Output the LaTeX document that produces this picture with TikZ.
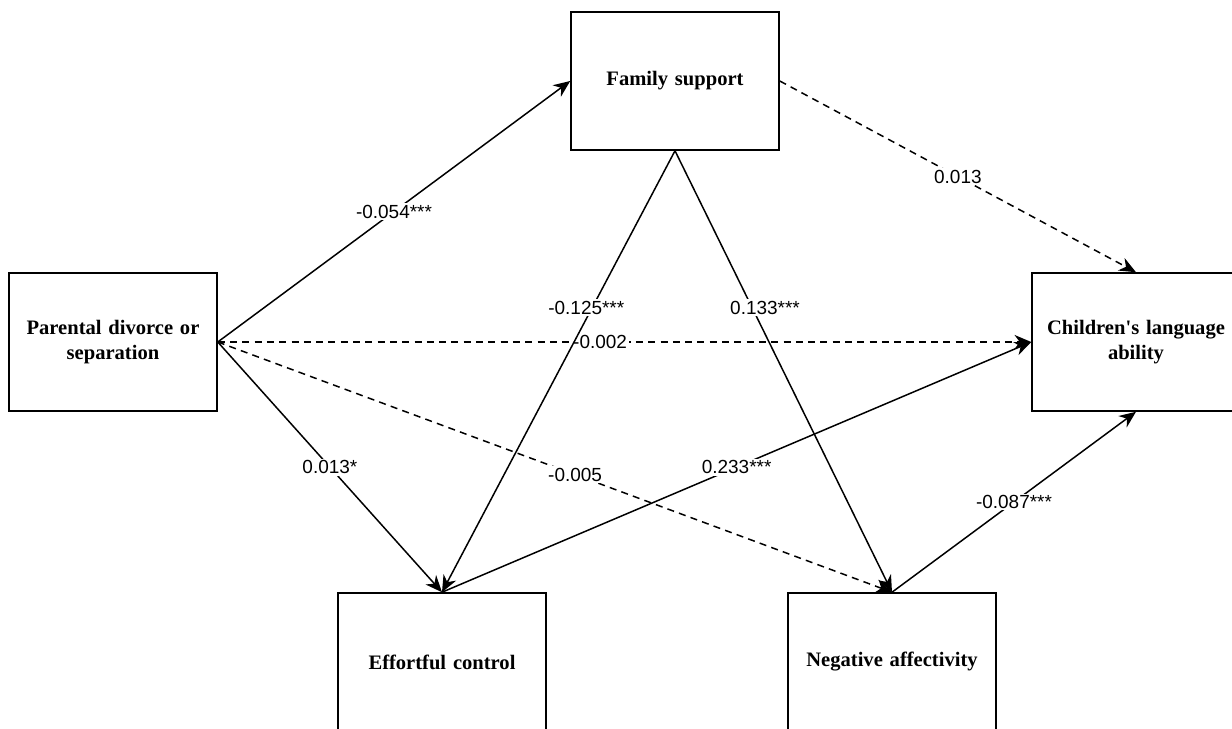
\documentclass[tikz,border=0pt]{standalone}
\usepackage{fontspec}
\setmainfont{Liberation Serif}
\setsansfont{Liberation Sans}
\usetikzlibrary{arrows.meta,positioning}

\begin{document}
\begin{tikzpicture}[
    x=0.02cm, y=-0.02cm,
    box/.style={rectangle, draw=black, line width=0.9pt, minimum width=4.16cm, minimum height=2.76cm, inner sep=0pt, text width=3.9cm, align=center, font=\fontsize{11.7}{14.2}\selectfont\bfseries},
    arrow/.style={-{Stealth[length=9.5pt,width=8pt,inset=3pt]}, line width=0.85pt},
    dasharrow/.style={arrow, dash pattern=on 4pt off 3pt},
    coef/.style={fill=white, inner sep=1pt, font=\sffamily\fontsize{10.8}{12}\selectfont}
]
\useasboundingbox (0,0) rectangle (1232,729);

% Variables
\node[box] (par) at (113,342) {Parental divorce or\\separation};
\node[box] (fam) at (675,81) {Family support};
\node[box] (chi) at (1136,342) {Children\textquotesingle s language\\ability};
\node[box] (eff) at (442,662) {Effortful control};
\node[box] (neg) at (892,662) {Negative affectivity};

% Paths
\draw[arrow] (par.east) -- node[coef] {-0.054***} (fam.west);
\draw[dasharrow] (par.east) -- node[coef, pos=0.47] {-0.002} (chi.west);
\draw[arrow] (par.east) -- node[coef] {0.013*} (eff.north);
\draw[dasharrow] (par.east) -- node[coef, pos=0.53] {-0.005} (neg.north);
\draw[arrow] (fam.south) -- node[coef, pos=0.355, xshift=-0.12cm] {-0.125***} (eff.north);
\draw[arrow] (fam.south) -- node[coef, pos=0.355, xshift=0.26cm] {0.133***} (neg.north);
\draw[dasharrow] (fam.east) -- node[coef] {0.013} (chi.north);
\draw[arrow] (eff.north) -- node[coef] {0.233***} (chi.west);
\draw[arrow] (neg.north) -- node[coef] {-0.087***} (chi.south);

\end{tikzpicture}
\end{document}
